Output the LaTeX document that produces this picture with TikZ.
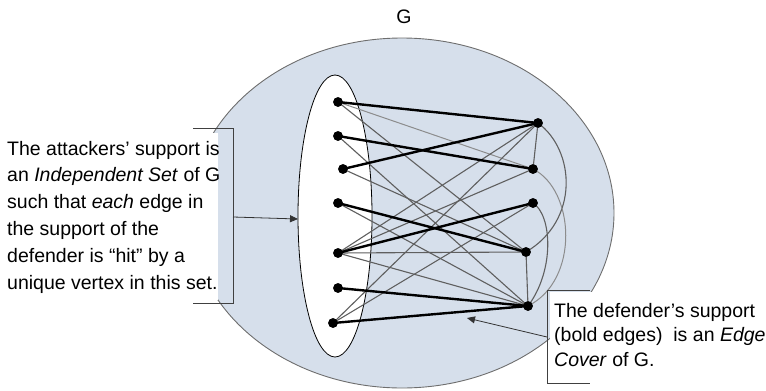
\documentclass[tikz,border=0pt]{standalone}
\usepackage{fontspec}
\setmainfont{Liberation Sans}
\usetikzlibrary{shapes.geometric,arrows.meta}
\definecolor{bgblue}{RGB}{214,223,235}
\definecolor{edgegray}{RGB}{95,95,95}
\definecolor{faintgray}{RGB}{140,140,140}
\definecolor{rimgray}{RGB}{110,110,110}
\begin{document}
\begin{tikzpicture}[x=1pt,y=-1pt,
  vtx/.style={circle,fill=black,inner sep=0pt,minimum size=9.5pt},
  boldedge/.style={line width=2.4pt,black},
  thinedge/.style={line width=1.1pt,edgegray},
  faintedge/.style={line width=1pt,faintgray},
  txt/.style={anchor=base west,inner sep=0pt,font=\fontsize{19.5}{24}\selectfont},
  brk/.style={line width=0.9pt,black!75},
  arr/.style={line width=0.8pt,black!80,-{Triangle[length=8pt,width=7pt]}}
]
\useasboundingbox (0,0) rectangle (766,391);

% ellipses
\node[ellipse,draw=rimgray,fill=bgblue,line width=0.9pt,inner sep=0pt,
      minimum width=424pt,minimum height=350pt] (big) at (402,213) {};
\node[ellipse,draw=black,fill=white,line width=0.8pt,inner sep=0pt,
      minimum width=74pt,minimum height=282pt] (indep) at (335,216) {};

% vertices
\node[vtx] (L1) at (338,102) {};
\node[vtx] (L2) at (338,136) {};
\node[vtx] (L3) at (343,169) {};
\node[vtx] (L4) at (338,203) {};
\node[vtx] (L5) at (338,253) {};
\node[vtx] (L6) at (338,288) {};
\node[vtx] (L7) at (333,323) {};
\node[vtx] (R1) at (538,123) {};
\node[vtx] (R2) at (533,169) {};
\node[vtx] (R3) at (533,203) {};
\node[vtx] (R4) at (526,252) {};
\node[vtx] (R5) at (528,306) {};

% thin edges
\begin{scope}[on background layer/.style={}]
\draw[faintedge] (L1.center) -- (R2.center);
\draw[thinedge] (L1.center) -- (R4.center);
\draw[thinedge] (L2.center) -- (R5.center);
\draw[thinedge] (L3.center) -- (R4.center);
\draw[thinedge] (L4.center) -- (R5.center);
\draw[thinedge] (L5.center) -- (R1.center);
\draw[thinedge] (L5.center) -- (R2.center);
\draw[thinedge] (L5.center) -- (R4.center);
\draw[thinedge] (L5.center) -- (R5.center);
\draw[thinedge] (L7.center) -- (R1.center);
\draw[thinedge] (L7.center) -- (R3.center);
\draw[thinedge] (R1.center) -- (R2.center);
\draw[thinedge] (R4.center) -- (R5.center);
\draw[thinedge] (R1.center) .. controls (575,150) and (580,220) .. (R4.center);
\draw[faintedge] (R2.center) .. controls (575,190) and (580,280) .. (R5.center);
\draw[thinedge] (R3.center) .. controls (552,215) and (555,270) .. (R5.center);
\end{scope}

% bold edges
\draw[boldedge] (L1.center) -- (R1.center);
\draw[boldedge] (L2.center) -- (R2.center);
\draw[boldedge] (L3.center) -- (R1.center);
\draw[boldedge] (L4.center) -- (R4.center);
\draw[boldedge] (L5.center) -- (R3.center);
\draw[boldedge] (L6.center) -- (R5.center);
\draw[boldedge] (L7.center) -- (R5.center);

% redraw vertices on top
\foreach \v in {L1,L2,L3,L4,L5,L6,L7,R1,R2,R3,R4,R5}
  \fill (\v) circle (4.8pt);

% title
\node[txt,anchor=base] (title) at (404,23) {G};

% left callout
\fill[white] (0,133) rectangle (218,300);
\draw[brk] (193,128) -- (233,128) -- (233,303) -- (193,303);
\node[txt] (a1) at (7,155) {The attackers’ support is};
\node[txt] (a2) at (7,181.8) {an \textit{Independent Set} of G};
\node[txt] (a3) at (7,208.6) {such that \textit{each} edge in};
\node[txt] (a4) at (7,235.4) {the support of the};
\node[txt] (a5) at (7,262.2) {defender is “hit” by a};
\node[txt] (a6) at (7,289) {unique vertex in this set.};
\coordinate (lfrom) at (233,217);
\coordinate (lto) at (298,219);
\draw[arr] (lfrom) -- (lto);

% right callout
\fill[white] (550,292) rectangle (766,381);
\draw[brk] (590,290) -- (547,290) -- (547,383) -- (590,383);
\node[txt] (b1) at (554,317.3) {The defender’s support};
\node[txt] (b2) at (554,341.7) {(bold edges)\ \ is an \textit{Edge}};
\node[txt] (b3) at (554,366) {\textit{Cover} of G.};
\coordinate (rfrom) at (547,337);
\coordinate (rto) at (467,318);
\draw[arr] (rfrom) -- (rto);
\end{tikzpicture}
\end{document}
